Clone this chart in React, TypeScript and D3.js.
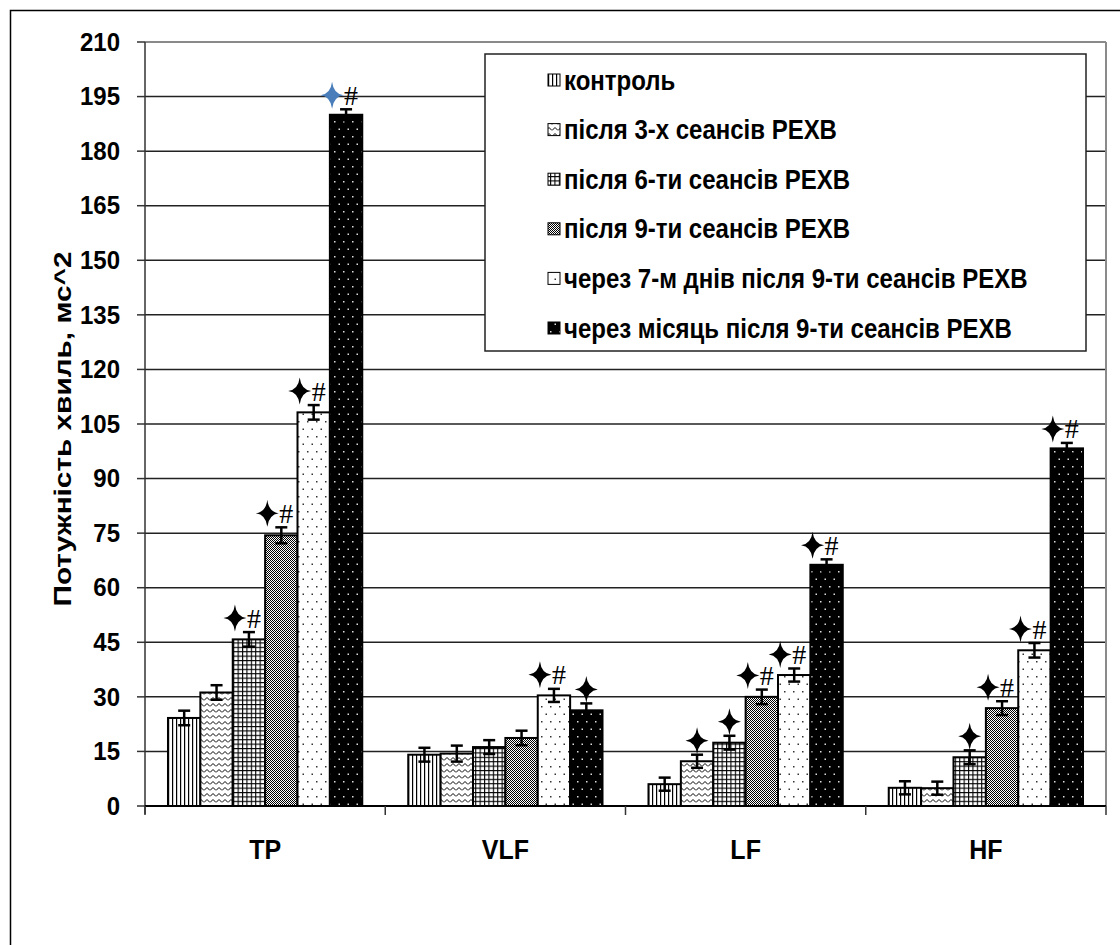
import React from 'react';
import * as d3 from 'd3';

const categories = ['TP', 'VLF', 'LF', 'HF'];
const seriesNames = [
  'контроль',
  'після 3-х сеансів РЕХВ',
  'після 6-ти сеансів РЕХВ',
  'після 9-ти сеансів РЕХВ',
  'через 7-м днів після 9-ти сеансів РЕХВ',
  'через місяць після 9-ти сеансів РЕХВ',
];
const control = [24.2, 14.1, 6.0, 5.0];
const after3 = [31.2, 14.4, 12.3, 4.9];
const after6 = [45.8, 16.2, 17.4, 13.4];
const after9 = [74.4, 18.7, 30.0, 26.9];
const after7d = [108.2, 30.4, 36.0, 42.8];
const afterMonth = [190.0, 26.3, 66.3, 98.3];
const errControl = [2, 1.9, 1.8, 1.8];
const errAfter3 = [2, 2.2, 1.8, 1.8];
const errAfter6 = [2, 1.9, 1.9, 1.9];
const errAfter9 = [2.2, 2.0, 2.0, 1.9];
const errAfter7d = [2.0, 1.8, 1.8, 2.0];
const errMonth = [1.5, 1.9, 1.5, 1.5];
// significance marks: star (✦) and hash (#)
const starControl = [0, 0, 0, 0];
const starAfter3 = [0, 0, 1, 0];
const starAfter6 = [1, 0, 1, 1];
const starAfter9 = [1, 0, 1, 1];
const starAfter7d = [1, 1, 1, 1];
const starMonth = [1, 1, 1, 1];
const hashControl = [0, 0, 0, 0];
const hashAfter3 = [0, 0, 0, 0];
const hashAfter6 = [1, 0, 0, 0];
const hashAfter9 = [1, 0, 1, 1];
const hashAfter7d = [1, 1, 1, 1];
const hashMonth = [1, 0, 1, 1];
const yTicks = [0, 15, 30, 45, 60, 75, 90, 105, 120, 135, 150, 165, 180, 195, 210];

const seriesValues = [control, after3, after6, after9, after7d, afterMonth];
const seriesErrors = [errControl, errAfter3, errAfter6, errAfter9, errAfter7d, errMonth];
const seriesStars = [starControl, starAfter3, starAfter6, starAfter9, starAfter7d, starMonth];
const seriesHashes = [hashControl, hashAfter3, hashAfter6, hashAfter9, hashAfter7d, hashMonth];
const patternIds = ['pVert', 'pZig', 'pGrid', 'pGray', 'pDotW', 'pDotB'];

const W = 1120;
const H = 945;
const left = 145;
const right = 1106;
const top = 42;
const bottom = 806;
const SANS = '"Liberation Sans", Arial, sans-serif';
const SERIF = '"Liberation Serif", "Times New Roman", serif';

function starPath(w: number, h: number) {
  const c = 1.4;
  return `M0,${-h} Q${c},${-c} ${w},0 Q${c},${c} 0,${h} Q${-c},${c} ${-w},0 Q${-c},${-c} 0,${-h} Z`;
}

export default function App() {
  const y = d3.scaleLinear().domain([0, 210]).range([bottom, top]);
  const x = d3.scaleBand<string>().domain(categories).range([left, right]).paddingInner(0).paddingOuter(0);
  const inner = d3
    .scaleBand<string>()
    .domain(seriesNames)
    .range([0, x.bandwidth()])
    .paddingInner(0)
    .paddingOuter(0.71);
  const bw = inner.bandwidth();

  const bars: React.ReactNode[] = [];
  const marks: React.ReactNode[] = [];
  seriesNames.forEach((s, si) => {
    categories.forEach((c, ci) => {
      const v = seriesValues[si][ci];
      const e = seriesErrors[si][ci];
      const bx = (x(c) as number) + (inner(s) as number);
      const cx = bx + bw / 2;
      bars.push(
        <rect
          key={`b-${si}-${ci}`}
          x={bx}
          y={y(v)}
          width={bw}
          height={y(0) - y(v)}
          fill={`url(#${patternIds[si]})`}
          stroke="#000"
          strokeWidth={2}
        />
      );
      const yt = y(v + e);
      const yb = y(v - e);
      marks.push(
        <g key={`e-${si}-${ci}`} stroke="#000" strokeWidth={2.5}>
          <line x1={cx} x2={cx} y1={yt} y2={yb} />
          <line x1={cx - 6} x2={cx + 6} y1={yt} y2={yt} />
          <line x1={cx - 6} x2={cx + 6} y1={yb} y2={yb} />
        </g>
      );
      const hasStar = seriesStars[si][ci] === 1;
      const hasHash = seriesHashes[si][ci] === 1;
      const my = yt - 14;
      if (hasStar) {
        const sx = hasHash ? cx - 14 : cx;
        const blue = si === 5 && ci === 0;
        marks.push(
          <path
            key={`s-${si}-${ci}`}
            d={starPath(11.5, 13.5)}
            transform={`translate(${sx},${my})`}
            fill={blue ? '#4a7ebb' : '#000'}
          />
        );
      }
      if (hasHash) {
        marks.push(
          <text
            key={`h-${si}-${ci}`}
            x={cx + 5}
            y={my}
            textAnchor="middle"
            dominantBaseline="central"
            fontFamily={SERIF}
            fontSize={28}
            fill="#000"
          >
            #
          </text>
        );
      }
    });
  });

  const legendX = 485;
  const legendY = 54;
  const legendW = 601;
  const legendH = 297;
  const rowY = (i: number) => 80 + i * 49.6;

  return (
    <svg
      width={W}
      height={H}
      style={{ position: 'absolute', left: 0, top: 0, background: '#fff' }}
      xmlns="http://www.w3.org/2000/svg"
    >
      <defs>
        <pattern id="pVert" patternUnits="userSpaceOnUse" width={4} height={4}>
          <rect width={4} height={4} fill="#fff" />
          <rect x={0} y={0} width={1.2} height={4} fill="#000" />
        </pattern>
        <pattern id="pZig" patternUnits="userSpaceOnUse" width={6} height={6}>
          <rect width={6} height={6} fill="#fff" />
          <path d="M0,4.5 L3,1.5 L6,4.5" fill="none" stroke="#000" strokeWidth={1} />
        </pattern>
        <pattern id="pGrid" patternUnits="userSpaceOnUse" width={4.4} height={4.4}>
          <rect width={4.4} height={4.4} fill="#fff" />
          <rect x={0} y={0} width={1.1} height={4.4} fill="#000" />
          <rect x={0} y={0} width={4.4} height={1.1} fill="#000" />
        </pattern>
        <pattern id="pGray" patternUnits="userSpaceOnUse" width={2} height={2}>
          <rect width={2} height={2} fill="#fff" />
          <rect x={0} y={0} width={1} height={1} fill="#000" />
          <rect x={1} y={1} width={1} height={1} fill="#000" />
        </pattern>
        <pattern id="pDotW" patternUnits="userSpaceOnUse" width={9} height={15}>
          <rect width={9} height={15} fill="#fff" />
          <rect x={1} y={1} width={1.5} height={1.5} fill="#333" />
          <rect x={5.5} y={8.5} width={1.5} height={1.5} fill="#333" />
        </pattern>
        <pattern id="pDotB" patternUnits="userSpaceOnUse" width={9} height={15}>
          <rect width={9} height={15} fill="#000" />
          <rect x={1} y={1} width={1.5} height={1.5} fill="#ddd" />
          <rect x={5.5} y={8.5} width={1.5} height={1.5} fill="#ddd" />
        </pattern>
      </defs>

      {/* outer chart border */}
      <rect x={10.5} y={10.5} width={1200} height={1000} fill="none" stroke="#000" strokeWidth={1.5} />

      {/* gridlines */}
      {yTicks.map((t) => (
        <line
          key={`g-${t}`}
          x1={left}
          x2={right}
          y1={y(t)}
          y2={y(t)}
          stroke={t === 210 ? '#8a8a8a' : '#222'}
          strokeWidth={t === 210 ? 2 : 1.5}
        />
      ))}
      {/* plot area right border */}
      <line x1={right} x2={right} y1={top} y2={bottom} stroke="#8a8a8a" strokeWidth={2} />

      {/* y axis */}
      <line x1={left} x2={left} y1={top} y2={bottom + 8} stroke="#333" strokeWidth={1.5} />
      {yTicks.map((t) => (
        <g key={`yt-${t}`}>
          <line x1={left - 8} x2={left} y1={y(t)} y2={y(t)} stroke="#333" strokeWidth={1.5} />
          <g transform={`translate(120,${y(t)}) scale(1,1.06)`}>
            <text
              x={0}
              y={0}
              textAnchor="end"
              dominantBaseline="central"
              fontFamily={SANS}
              fontWeight="bold"
              fontSize={24}
              fill="#000"
            >
              {t}
            </text>
          </g>
        </g>
      ))}

      {/* bars */}
      {bars}

      {/* x axis */}
      <line x1={left} x2={right} y1={bottom} y2={bottom} stroke="#000" strokeWidth={2} />
      {[...categories.map((c) => x(c) as number), right].map((px, i) => (
        <line key={`xt-${i}`} x1={px} x2={px} y1={bottom} y2={bottom + 9} stroke="#333" strokeWidth={1.5} />
      ))}
      {categories.map((c) => (
        <g key={`xl-${c}`} transform={`translate(${(x(c) as number) + x.bandwidth() / 2},850) scale(1,1.08)`}>
          <text
            x={0}
            y={0}
            textAnchor="middle"
            dominantBaseline="central"
            fontFamily={SANS}
            fontWeight="bold"
            fontSize={25}
            fill="#000"
          >
            {c}
          </text>
        </g>
      ))}

      {/* error bars & significance marks */}
      {marks}

      {/* y axis title */}
      <text
        transform={`translate(62,${429}) rotate(-90)`}
        textAnchor="middle"
        dominantBaseline="central"
        fontFamily={SANS}
        fontWeight="bold"
        fontSize={24}
        textLength={355}
        lengthAdjust="spacingAndGlyphs"
        fill="#000"
      >
        Потужність хвиль, мс^2
      </text>

      {/* legend */}
      <rect x={legendX} y={legendY} width={legendW} height={legendH} fill="#fff" stroke="#222" strokeWidth={1.5} />
      {seriesNames.map((s, i) => (
        <g key={`lg-${i}`}>
          <rect x={548} y={rowY(i) - 6} width={12} height={12} fill={`url(#${patternIds[i]})`} stroke="#000" strokeWidth={1} />
          <g transform={`translate(564,${rowY(i)}) scale(1,1.14)`}>
            <text
              x={0}
              y={0}
              dominantBaseline="central"
              fontFamily={SANS}
              fontWeight="bold"
              fontSize={24}
              fill="#000"
            >
              {s}
            </text>
          </g>
        </g>
      ))}
    </svg>
  );
}
